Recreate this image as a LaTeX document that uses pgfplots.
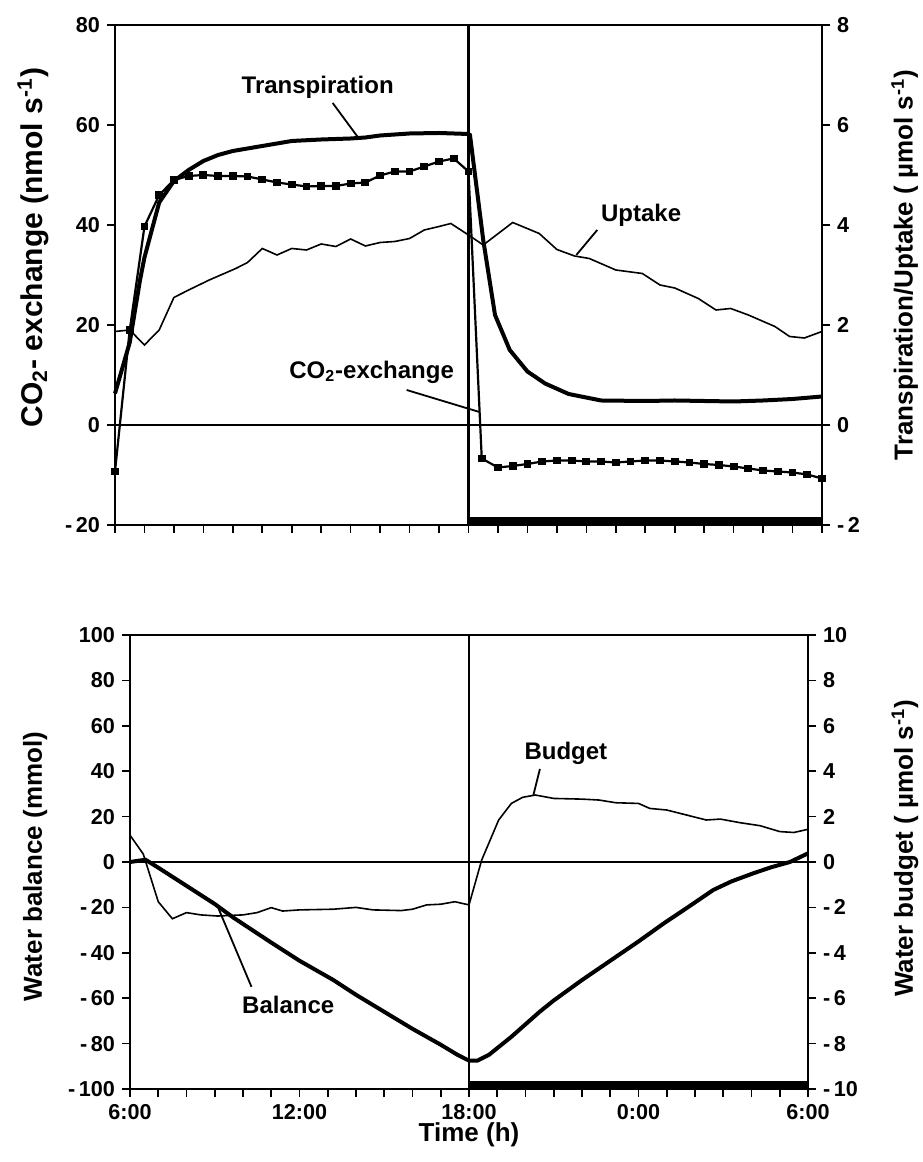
\documentclass[border=0pt]{standalone}
\usepackage{fontspec}
\setmainfont{Liberation Sans}
\usepackage{pgfplots}
\pgfplotsset{compat=1.18}

\begin{document}
\begin{tikzpicture}
\path[use as bounding box] (0pt,0pt) rectangle (461pt,581pt);
\pgfplotsset{
  every axis/.append style={
    scale only axis,
    anchor=south west,
    clip=false,
    font=\fontsize{10.8}{12}\selectfont\bfseries,
    axis line style={line width=0.9pt},
    tick style={line width=0.8pt,black},
    tick align=outside,
    major tick length=4pt,
    minor tick length=4pt,
    xmin=0, xmax=24,
  },
  every axis label/.append style={font=\fontsize{13}{15}\selectfont\bfseries},
}
\newcommand{\lab}{\fontsize{12}{14}\selectfont\bfseries}

% ---------- top panel ----------
\begin{axis}[
  at={(57.5pt,318.5pt)}, width=353.5pt, height=250pt,
  ymin=-20, ymax=80,
  xtick={0,6,12,18,24}, minor x tick num=5, xticklabels={},
  ytick={-20,0,...,80}, yticklabels={-\,20,0,20,40,60,80},
  tick pos=left,
  ylabel={CO\textsubscript{2}- exchange (nmol s\textsuperscript{-1})},
  ylabel style={at={(axis description cs:-0.116,0.555)},anchor=center,
    font=\fontsize{15}{17}\selectfont\bfseries},
]
\addplot[line width=0.8pt] coordinates {(0,0) (24,0)};
\addplot[line width=1.3pt] coordinates {(12,-20) (12,80)};
\addplot[line width=4pt] coordinates {(12,-19.2) (24,-19.2)};
% uptake
\addplot[line width=0.8pt] coordinates {
(0,18.7) (0.5,19) (1,16) (1.5,19) (2,25.5) (2.5,27) (3.2,29) (4.1,31.3)
(4.5,32.5) (5,35.3) (5.5,34) (6,35.3) (6.5,35) (7,36.2) (7.5,35.7) (8,37.2)
(8.5,35.8) (9,36.5) (9.5,36.7) (10,37.3) (10.5,39) (11,39.7) (11.4,40.3)
(12,38) (12.5,36) (13.5,40.5) (14.4,38.3) (15,35.1) (15.6,33.8) (16.1,33.3)
(17,31) (17.9,30.3) (18.5,28) (19,27.4) (19.8,25.3) (20.4,23) (20.9,23.3)
(21.5,22) (22.4,19.7) (22.9,17.7) (23.4,17.4) (24,18.7)};
% transpiration
\addplot[line width=2pt] coordinates {
(0,6.3) (0.5,16.5) (0.85,29) (1,33.5) (1.5,44.5) (2,48.8) (2.5,51) (3,52.8)
(3.5,54) (4,54.8) (4.5,55.3) (5,55.8) (6,56.8) (7,57.1) (8,57.3) (8.5,57.5)
(9,57.9) (10,58.3) (11,58.4) (12,58.2) (12.05,58) (12.5,37) (12.9,22)
(13.4,15) (14,10.7) (14.6,8.3) (15.4,6.2) (16.5,4.9) (18,4.8) (19,4.9)
(20,4.8) (21,4.7) (22,4.9) (23,5.2) (24,5.7)};
% CO2 exchange
\addplot[line width=1.1pt, mark=square*, mark size=1.4pt] coordinates {
(0,-9.3) (0.5,19) (1,39.7) (1.5,46) (2,49) (2.5,49.8) (3,50) (3.5,49.8)
(4,49.8) (4.5,49.7) (5,49.1) (5.5,48.5) (6,48.1) (6.5,47.7) (7,47.8)
(7.5,47.8) (8,48.3) (8.5,48.5) (9,49.9) (9.5,50.7) (10,50.7) (10.5,51.7)
(11,52.7) (11.5,53.3) (12,50.7) (12.45,-6.7) (13,-8.5) (13.5,-8.2)
(14,-7.8) (14.5,-7.3) (15,-7.1) (15.5,-7.1) (16,-7.3) (16.5,-7.3) (17,-7.5)
(17.5,-7.3) (18,-7.1) (18.5,-7.1) (19,-7.3) (19.5,-7.5) (20,-7.8) (20.5,-8)
(21,-8.3) (21.5,-8.7) (22,-9.1) (22.5,-9.3) (23,-9.5) (23.5,-9.9) (24,-10.7)};
\node[font=\lab] at (axis cs:6.88,67.6) {Transpiration};
\draw[line width=0.9pt] (axis cs:7.39,64.4) -- (axis cs:8.24,57.6);
\node[font=\lab] at (axis cs:17.86,42) {Uptake};
\draw[line width=0.9pt] (axis cs:16.37,39) -- (axis cs:15.66,34);
\node[font=\lab] at (axis cs:8.71,10.6) {CO\textsubscript{2}-exchange};
\draw[line width=0.9pt] (axis cs:9.9,7) -- (axis cs:12.37,2.6);
\end{axis}
\begin{axis}[
  at={(57.5pt,318.5pt)}, width=353.5pt, height=250pt,
  ymin=-2, ymax=8,
  axis x line=none, axis y line*=right,
  ytick={-2,0,...,8}, yticklabels={-\,2,0,2,4,6,8},
  ylabel={Transpiration/Uptake ( µmol s\textsuperscript{-1})},
  ylabel style={at={(axis description cs:1.117,0.52)},anchor=center},
]
\end{axis}

% ---------- bottom panel ----------
\begin{axis}[
  at={(65pt,36.5pt)}, width=339pt, height=227pt,
  ymin=-100, ymax=100,
  xtick={0,6,12,18,24}, minor x tick num=5,
  xticklabels={6:00,12:00,18:00,0:00,6:00},
  ytick={-100,-80,...,100},
  yticklabels={-\,100,-\,80,-\,60,-\,40,-\,20,0,20,40,60,80,100},
  tick pos=left,
  xlabel={Time (h)},
  xlabel style={yshift=5pt},
  ylabel={Water balance (mmol)},
  ylabel style={at={(axis description cs:-0.14,0.49)},anchor=center},
]
\addplot[line width=0.8pt] coordinates {(0,0) (24,0)};
\addplot[line width=1.3pt] coordinates {(12,-100) (12,100)};
\addplot[line width=4pt] coordinates {(12,-98.2) (24,-98.2)};
% budget
\addplot[line width=0.8pt] coordinates {
(0,11.8) (0.47,3.5) (1,-17.5) (1.5,-25) (2,-22.3) (2.5,-23.3) (3.1,-23.8)
(4,-23.3) (4.5,-22.3) (5,-20.1) (5.4,-21.6) (6,-21.1) (7.2,-20.8) (8,-20)
(8.6,-21.1) (9.6,-21.4) (10,-20.8) (10.5,-18.9) (11,-18.6) (11.5,-17.5)
(12,-18.9) (12.45,0.9) (13.05,18.5) (13.5,25.8) (13.9,28.5) (14.35,29.5)
(15,28) (16,27.7) (16.6,27.3) (17.2,26.1) (18,25.8) (18.4,23.6) (19,22.9)
(19.7,20.7) (20.4,18.5) (20.9,18.9) (21.6,17.3) (22.3,16) (23,13.4)
(23.5,13) (24,14.4)};
% balance
\addplot[line width=2pt] coordinates {
(0,0) (0.55,1) (1,-2.5) (2,-10.5) (3,-18.5) (3.66,-24.5) (5,-35.5) (6,-43.5)
(7.2,-52) (8,-58.5) (9,-66) (10,-73.5) (11,-80.5) (11.6,-85) (12,-87.5)
(12.3,-87.5) (12.7,-85) (13.5,-77) (14.5,-66) (15,-61) (16,-52) (17,-43.5)
(18,-35) (18.9,-27) (19.8,-19.5) (20.65,-12.3) (21.3,-8.5) (22.06,-5)
(22.7,-2.3) (23.36,0) (24,3.8)};
\node[font=\lab] at (axis cs:15.43,48) {Budget};
\draw[line width=0.9pt] (axis cs:14.51,41) -- (axis cs:14.28,29.5);
\node[font=\lab] at (axis cs:5.6,-63) {Balance};
\draw[line width=0.9pt] (axis cs:4.3,-55) -- (axis cs:3.1,-19.5);
\end{axis}
\begin{axis}[
  at={(65pt,36.5pt)}, width=339pt, height=227pt,
  ymin=-10, ymax=10,
  axis x line=none, axis y line*=right,
  ytick={-10,-8,...,10},
  yticklabels={-\,10,-\,8,-\,6,-\,4,-\,2,0,2,4,6,8,10},
  ylabel={Water budget ( µmol s\textsuperscript{-1})},
  ylabel style={at={(axis description cs:1.143,0.53)},anchor=center},
]
\end{axis}
\end{tikzpicture}
\end{document}
